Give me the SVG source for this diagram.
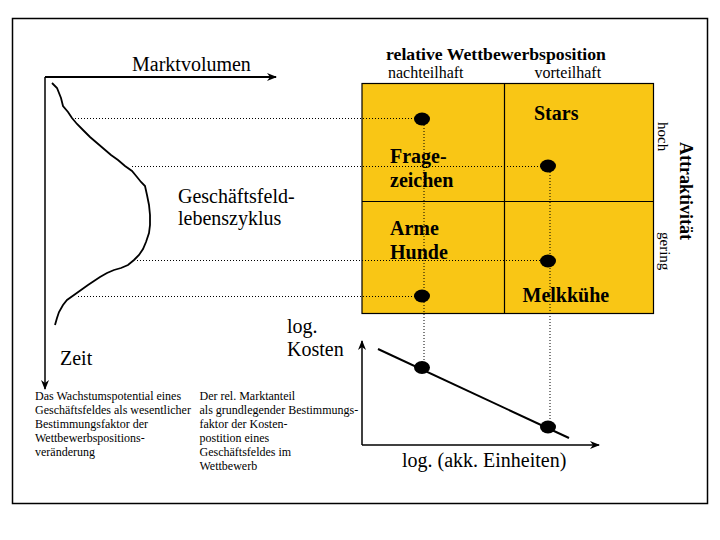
<svg xmlns="http://www.w3.org/2000/svg" width="720" height="540" viewBox="0 0 720 540">
<style>
text{font-family:"Liberation Serif","Times New Roman",serif;fill:#000}
.big{font-size:20px}
.bold{font-weight:bold}
.small{font-size:12px}
.mid{font-size:16px}
.side{font-size:15px}
.dot{stroke:#000;stroke-width:1;stroke-dasharray:1 2;fill:none}
.ax{stroke:#000;fill:none}
.pt{fill:#000}
</style>
<defs>
<marker id="ah" markerWidth="10" markerHeight="8" refX="9" refY="4" orient="auto" markerUnits="userSpaceOnUse">
<path d="M0,0 L10,4 L0,8 L3,4 Z" fill="#000"/>
</marker>
</defs>
<rect x="0" y="0" width="720" height="540" fill="#fff"/>
<rect id="frame" x="12.5" y="18.5" width="695" height="485" fill="none" stroke="#000" stroke-width="1.5"/>

<g id="lifecycle">
<text class="big" x="132" y="71">Marktvolumen</text>
<path class="ax" stroke-width="2" d="M45,77 H276" marker-end="url(#ah)"/>
<path class="ax" stroke-width="1.5" d="M45,77 V389" marker-end="url(#ah)"/>
<text class="big" x="60" y="365">Zeit</text>
<path class="ax" stroke-width="1.8" d="M52,83 L57,88 L61,98 L63,106 L68,112 L72,118 L77,124 L83,130 L90,137 L97,143 L104,149 L111,155 L118,160 L125,166 L132,171 L137,177 L141,182 L145,186 L147,195 L149,205 L150,215 L150,225 L149,233 L146,242 L143,249 L139,255 L134,260 L128,265 L121,268 L114,270 L107,273 L100,277 L94,281 L88,285 L81,290 L74,295 L67,300 L63,305 L59,312 L57,318 L55,325"/>
<text class="big" x="178" y="203">Geschäftsfeld-</text>
<text class="big" x="178" y="225">lebenszyklus</text>
</g>

<g id="matrix">
<rect x="362" y="83.5" width="291.5" height="230" fill="#F9C615" stroke="#000" stroke-width="1.2"/>
<line x1="504.5" y1="83.5" x2="504.5" y2="313.5" stroke="#000" stroke-width="1.2"/>
<line x1="362" y1="201.5" x2="653.5" y2="201.5" stroke="#000" stroke-width="1.2"/>
<text class="bold" x="386" y="60" style="font-size:17.7px">relative Wettbewerbsposition</text>
<text class="mid" x="388" y="78.2">nachteilhaft</text>
<text class="mid" x="534.5" y="78.2">vorteilhaft</text>
<text class="big bold" x="534" y="120">Stars</text>
<text class="big bold" x="390" y="163">Frage-</text>
<text class="big bold" x="390" y="187">zeichen</text>
<text class="big bold" x="390" y="235">Arme</text>
<text class="big bold" x="390" y="258.5">Hunde</text>
<text class="big bold" x="522.5" y="302">Melkkühe</text>
<text class="bold" style="font-size:18px" transform="translate(679.5,142) rotate(90)">Attraktivität</text>
<text class="side" transform="translate(658,122) rotate(90)">hoch</text>
<text class="side" transform="translate(660,232) rotate(90)">gering</text>
</g>

<g id="connectors">
<line class="dot" x1="75" y1="118.5" x2="418" y2="118.5"/>
<line class="dot" x1="132" y1="166.5" x2="544" y2="166.5"/>
<line class="dot" x1="137" y1="260.5" x2="544" y2="260.5"/>
<line class="dot" x1="78" y1="296.5" x2="418" y2="296.5"/>
<line class="dot" x1="424" y1="119" x2="424" y2="367"/>
<line class="dot" x1="550" y1="166" x2="550" y2="426"/>
</g>

<g id="points">
<ellipse class="pt" cx="422" cy="119" rx="8" ry="6.5"/>
<ellipse class="pt" cx="548" cy="166" rx="8" ry="6.5"/>
<ellipse class="pt" cx="548" cy="261" rx="8" ry="6.5"/>
<ellipse class="pt" cx="422" cy="296" rx="8" ry="6.5"/>
<ellipse class="pt" cx="422" cy="367.5" rx="8" ry="6.5"/>
<ellipse class="pt" cx="548" cy="427" rx="8" ry="6.5"/>
</g>

<g id="costchart">
<path class="ax" stroke-width="1.5" d="M362,445 V341" marker-end="url(#ah)"/>
<path class="ax" stroke-width="1.5" d="M362,445 H599" marker-end="url(#ah)"/>
<line x1="378" y1="349" x2="569" y2="438" stroke="#000" stroke-width="2"/>
<text class="big" x="287" y="333">log.</text>
<text class="big" x="287" y="356">Kosten</text>
<text class="big" x="402" y="467">log. (akk. Einheiten)</text>
</g>

<g id="notes">
<text class="small" x="35" y="399.5">Das Wachstumspotential eines</text>
<text class="small" x="35" y="413.6">Geschäftsfeldes als wesentlicher</text>
<text class="small" x="35" y="427.7">Bestimmungsfaktor der</text>
<text class="small" x="35" y="441.8">Wettbewerbspositions-</text>
<text class="small" x="35" y="455.9">veränderung</text>
<text class="small" x="199.5" y="399.5">Der rel. Marktanteil</text>
<text class="small" x="199.5" y="413.6">als grundlegender Bestimmungs-</text>
<text class="small" x="199.5" y="427.7">faktor der Kosten-</text>
<text class="small" x="199.5" y="441.8">postition eines</text>
<text class="small" x="199.5" y="455.9">Geschäftsfeldes im</text>
<text class="small" x="199.5" y="470">Wettbewerb</text>
</g>
</svg>
